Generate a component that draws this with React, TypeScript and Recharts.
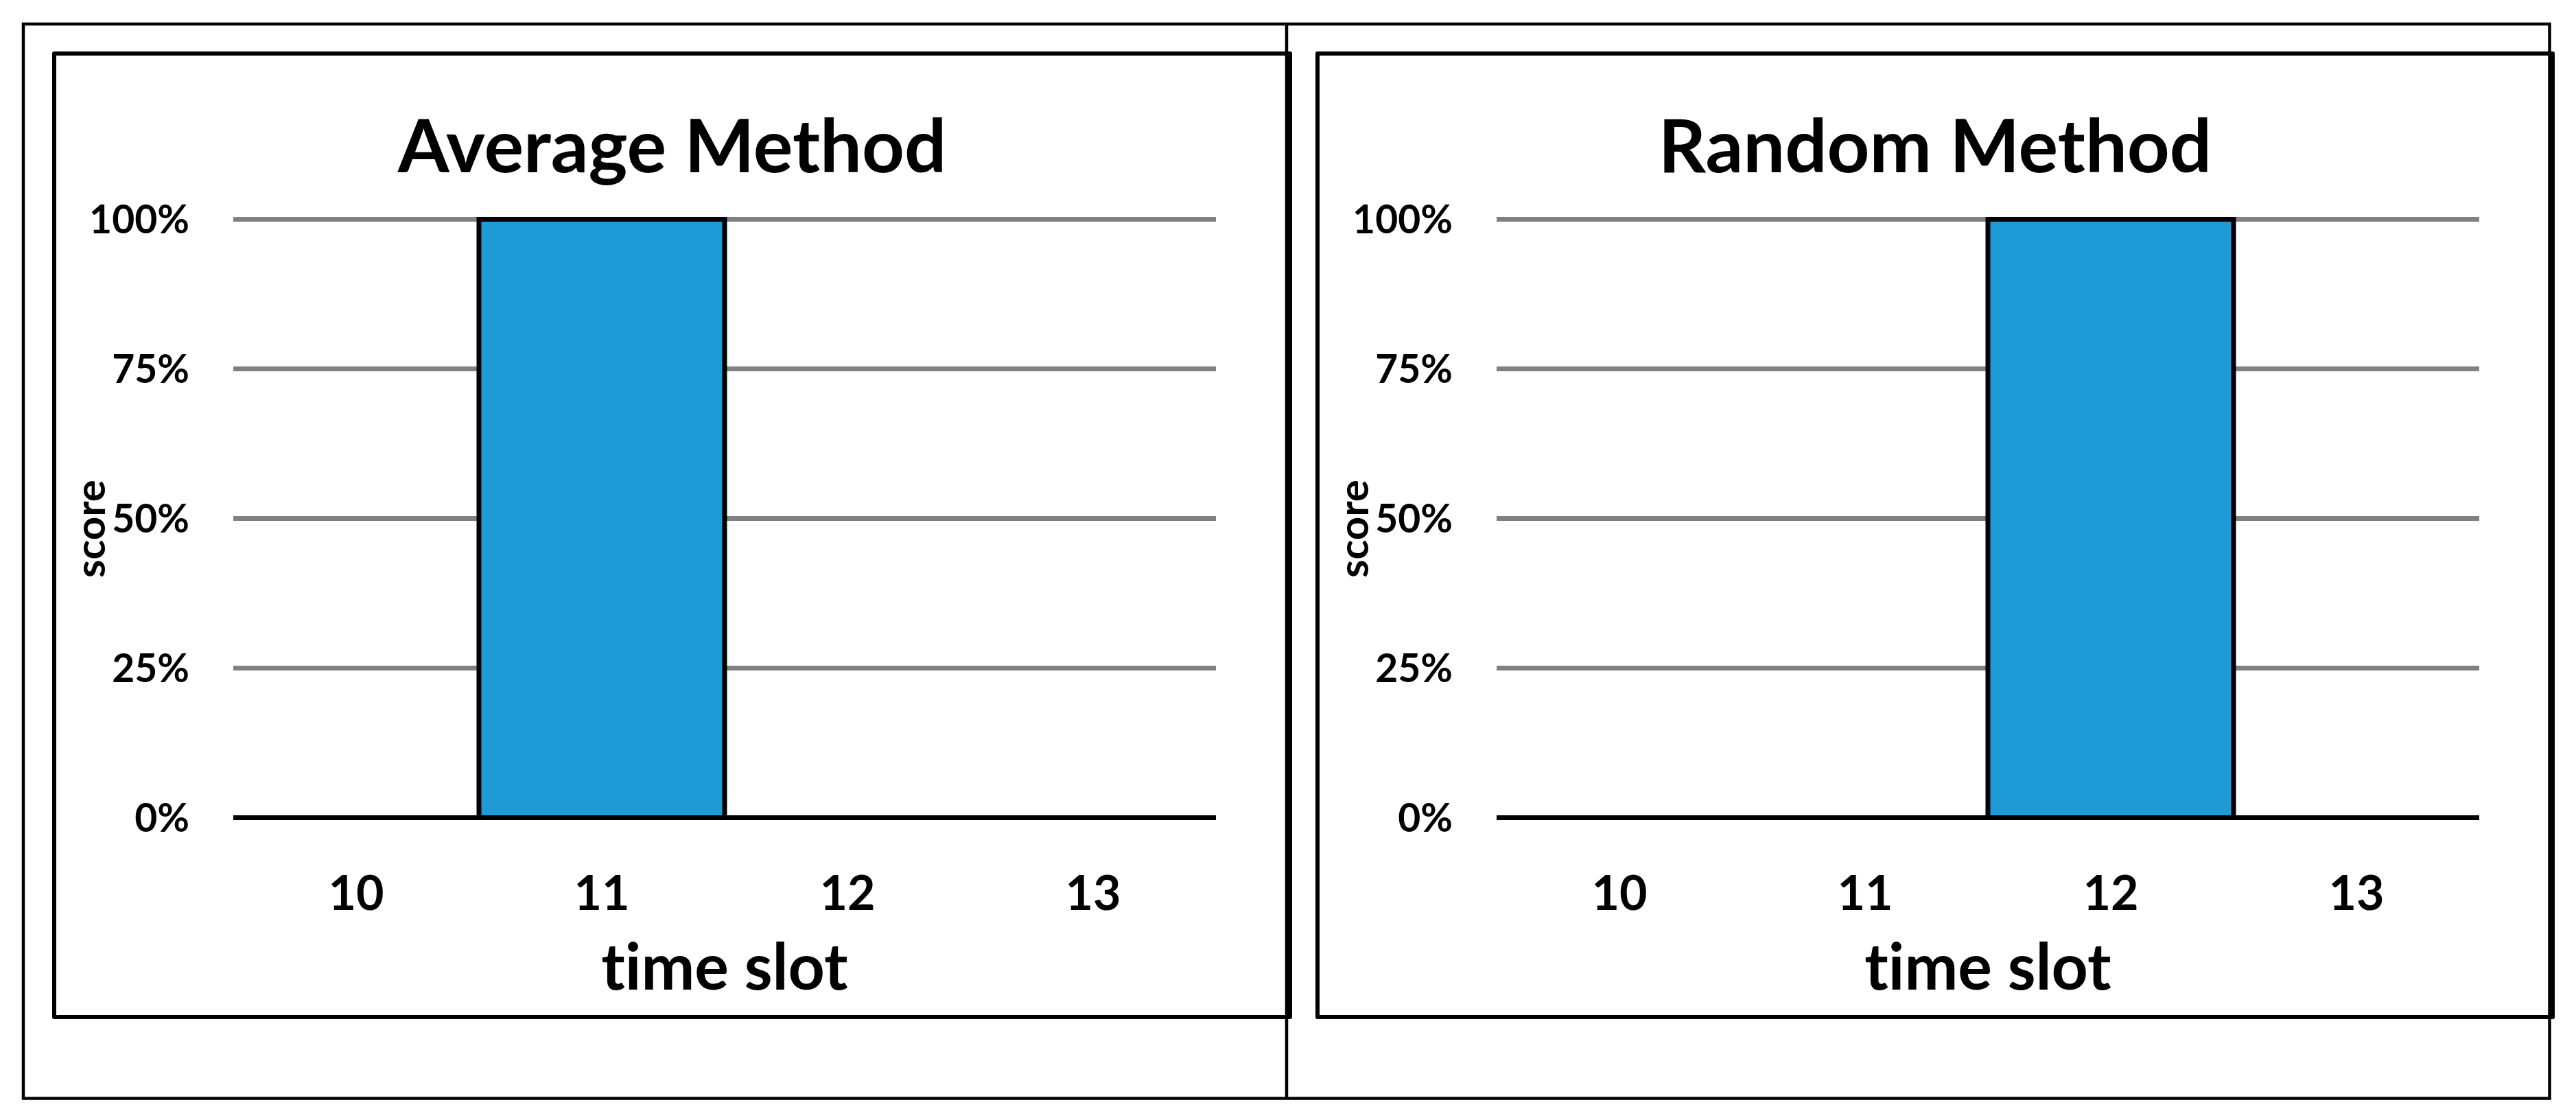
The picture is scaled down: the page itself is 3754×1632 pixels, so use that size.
import React from 'react';
import { BarChart, Bar, XAxis, YAxis, CartesianGrid, Label } from 'recharts';

const timeSlots = ['10', '11', '12', '13'];
const averageScores = [0, 1, 0, 0];
const randomScores = [0, 0, 1, 0];
const yTicks = [0, 0.25, 0.5, 0.75, 1];

const FONT = 'Lato, "Open Sans", sans-serif';
const BAR_BLUE = '#1E9BD7';

const toRows = (values: number[]) => timeSlots.map((slot, i) => ({ slot, score: values[i] }));

function ScoreLabel(props: any) {
  const vb = props.viewBox || {};
  const x = vb.x + vb.width - 187;
  const y = vb.y + vb.height / 2 + 15;
  return (
    <text
      x={x}
      y={y}
      transform={`rotate(-90, ${x}, ${y})`}
      textAnchor="middle"
      fontFamily={FONT}
      fontWeight={700}
      fontSize={60}
      fill="#000"
    >
      score
    </text>
  );
}

function MethodChart({ values, left, top }: { values: number[]; left: number; top: number }) {
  return (
    <div style={{ position: 'absolute', left, top, width: 1807, height: 1410 }}>
      <BarChart
        width={1807}
        height={1410}
        data={toRows(values)}
        margin={{ top: 244.5, right: 111, bottom: 43.5, left: 0 }}
        barCategoryGap={0}
      >
        <CartesianGrid horizontal vertical={false} stroke="#808080" strokeWidth={7} />
        <XAxis
          dataKey="slot"
          height={250}
          tickSize={0}
          tickLine={false}
          tickMargin={85}
          axisLine={{ stroke: '#000', strokeWidth: 7 }}
          tick={{ fill: '#000', fontSize: 70, fontWeight: 700, fontFamily: FONT }}
        >
          <Label
            value="time slot"
            position="insideBottom"
            offset={0}
            fill="#000"
            fontSize={93}
            fontWeight={700}
            fontFamily={FONT}
            style={{ fontVariantLigatures: 'none' }}
          />
        </XAxis>
        <YAxis
          width={264}
          domain={[0, 1]}
          ticks={yTicks}
          interval={0}
          tickSize={0}
          tickLine={false}
          tickMargin={64}
          axisLine={false}
          tickFormatter={(v: number) => `${Math.round(v * 100)}%`}
          tick={{ fill: '#000', fontSize: 57, fontWeight: 700, fontFamily: FONT }}
        >
          <Label content={<ScoreLabel />} />
        </YAxis>
        <Bar
          dataKey="score"
          fill={BAR_BLUE}
          stroke="#000"
          strokeWidth={7}
          isAnimationActive={false}
        />
      </BarChart>
    </div>
  );
}

export default function App() {
  return (
    <div style={{ position: 'absolute', left: 0, top: 0, width: 3754, height: 1632, background: '#fff' }}>
      <MethodChart values={averageScores} left={76} top={75} />
      <MethodChart values={randomScores} left={1917} top={75} />
      <svg
        width={3754}
        height={1632}
        style={{ position: 'absolute', left: 0, top: 0, pointerEvents: 'none' }}
      >
        {/* outer frame with divider */}
        <rect x={34} y={35} width={3681.5} height={1565.5} fill="none" stroke="#000" strokeWidth={4.5} />
        <line x1={1875} y1={35} x2={1875} y2={1600.5} stroke="#000" strokeWidth={4.5} />
        {/* chart boxes */}
        <rect x={79} y={78} width={1801} height={1404} fill="none" stroke="#000" strokeWidth={6} strokeLinejoin="round" />
        <rect x={1920} y={78} width={1800} height={1404} fill="none" stroke="#000" strokeWidth={6} strokeLinejoin="round" />
        <text x={979.5} y={251} textAnchor="middle" fontFamily={FONT} fontWeight={700} fontSize={108} fill="#000">
          Average Method
        </text>
        <text x={2820} y={251} textAnchor="middle" fontFamily={FONT} fontWeight={700} fontSize={108} fill="#000">
          Random Method
        </text>
      </svg>
    </div>
  );
}
